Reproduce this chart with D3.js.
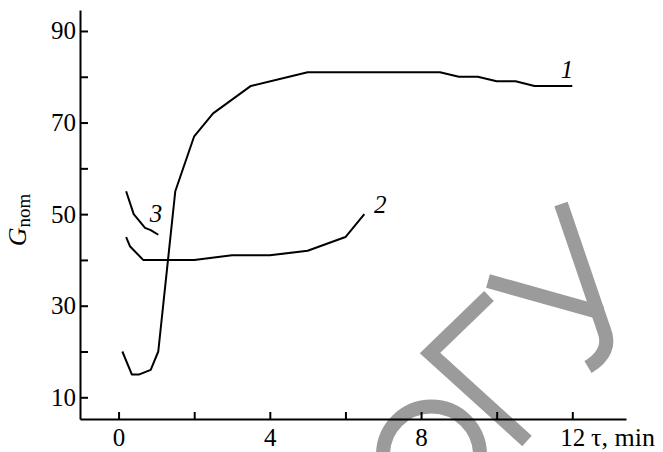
<!DOCTYPE html>
<html>
<head>
<meta charset="utf-8">
<script src="https://cdn.jsdelivr.net/npm/d3@7"></script>
<style>
  body { margin: 0; background: #fff; }
  svg { display: block; }
  svg text { font-family: "Liberation Serif", "Times New Roman", Times, serif; }
</style>
</head>
<body>
<div id="chart"></div>
<script>
// curve data: [tau (min), G_nom]
const curve1 = [[0.1, 20], [0.35, 15], [0.55, 15], [0.85, 16], [1.05, 20], [1.5, 55], [2, 67], [2.5, 72],
                [3.5, 78], [5, 81], [8.5, 81], [9, 80], [9.5, 80], [10, 79], [10.5, 79], [11, 78], [12, 78]];
const curve2 = [[0.2, 45], [0.3, 43], [0.65, 40], [2, 40], [3, 41], [4, 41], [5, 42], [6, 45], [6.5, 50]];
const curve3 = [[0.2, 55], [0.4, 50], [0.7, 47], [0.85, 46.5], [1.05, 45.5]];
const curves = [curve1, curve2, curve3];
const curveLabels = ['1', '2', '3'];
const labelPos = [[11.86, 79.7], [6.92, 50.2], [0.99, 48.3]];

const xTicks = [0, 2, 4, 6, 8, 10, 12];
const xTickLabels = [0, 4, 8, 12];
const yTicks = [10, 20, 30, 40, 50, 60, 70, 80, 90];
const yTickLabels = [10, 30, 50, 70, 90];

const width = 663, height = 452;

const x = d3.scaleLinear().domain([-1.02, 13.42]).range([80, 626]);
const y = d3.scaleLinear().domain([5.26, 94.58]).range([419, 10]);

const svg = d3.select('#chart').append('svg')
    .attr('width', width)
    .attr('height', height);

// grey watermark behind everything (decoration, not data)
const wm = svg.append('g')
    .attr('fill', 'none')
    .attr('stroke', '#9b9b9b')
    .attr('stroke-width', 14);
wm.append('path').attr('d', 'M561,204 L604,330 Q613,352 588,367');
wm.append('path').attr('d', 'M488,281 L602,313');
wm.append('path').attr('d', 'M489,296 L430,353 L527,441');
wm.append('path').attr('d', 'M383,455 A48,48 0 0 1 480,455');

const xAxis = d3.axisBottom(x)
    .tickValues(xTicks)
    .tickSizeInner(-7)
    .tickSizeOuter(0)
    .tickPadding(9)
    .tickFormat(d => xTickLabels.includes(d) ? d : '');

const yAxis = d3.axisLeft(y)
    .tickValues(yTicks)
    .tickSizeInner(-8)
    .tickSizeOuter(0)
    .tickPadding(4)
    .tickFormat(d => yTickLabels.includes(d) ? d : '');

const gx = svg.append('g')
    .attr('transform', `translate(0,${y.range()[0]})`)
    .call(xAxis);
const gy = svg.append('g')
    .attr('transform', `translate(${x.range()[0]},0)`)
    .call(yAxis);

[gx, gy].forEach(g => {
    g.attr('font-family', null).attr('font-size', 25);
    g.select('.domain').attr('stroke', '#000').attr('stroke-width', 2);
    g.selectAll('.tick line').attr('stroke', '#000').attr('stroke-width', 2);
    g.selectAll('.tick text').attr('fill', '#000');
});

// axis titles
svg.append('text')
    .attr('x', 591)
    .attr('y', 446)
    .attr('font-size', 26)
    .text('τ, min');

const ylab = svg.append('text')
    .attr('transform', 'translate(26,220) rotate(-90)')
    .attr('text-anchor', 'middle')
    .attr('font-size', 26);
ylab.append('tspan').attr('font-style', 'italic').text('G');
ylab.append('tspan').attr('font-size', 19).attr('dy', 4).text('nom');

const line = d3.line()
    .x(d => x(d[0]))
    .y(d => y(d[1]));

svg.append('g')
    .selectAll('path')
    .data(curves)
    .join('path')
        .attr('fill', 'none')
        .attr('stroke', '#000')
        .attr('stroke-width', 2)
        .attr('stroke-linejoin', 'round')
        .attr('d', line);

svg.append('g')
    .selectAll('text')
    .data(curveLabels)
    .join('text')
        .attr('x', (d, i) => x(labelPos[i][0]))
        .attr('y', (d, i) => y(labelPos[i][1]))
        .attr('text-anchor', 'middle')
        .attr('font-style', 'italic')
        .attr('font-size', 25)
        .text(d => d);
</script>
</body>
</html>
